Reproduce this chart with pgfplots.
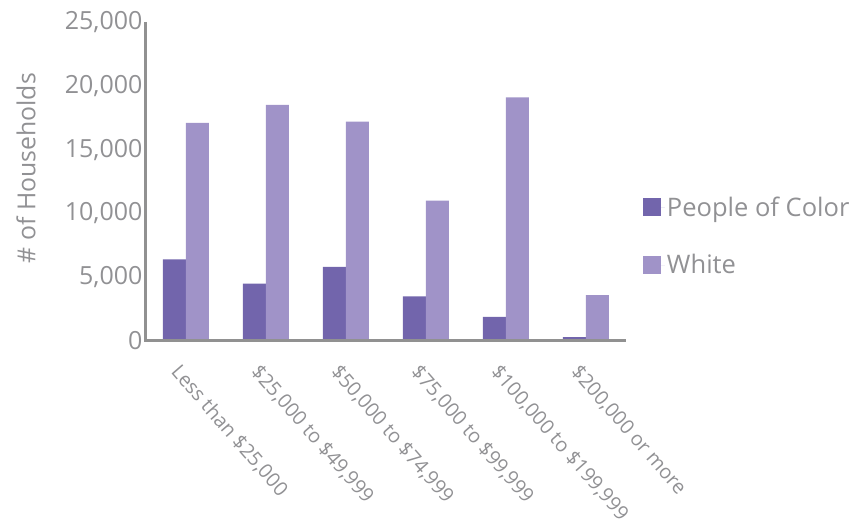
\documentclass[border=0pt]{standalone}
\usepackage{fontspec}
\setmainfont{Open Sans}
\usepackage{pgfplots}
\pgfplotsset{compat=1.18}

\definecolor{poc}{RGB}{114,101,172}
\definecolor{wht}{RGB}{160,147,200}
\definecolor{txtgray}{RGB}{145,145,148}
\definecolor{axgray}{RGB}{145,145,145}

\begin{document}
\begin{tikzpicture}[x=1pt,y=1pt]
% page frame, same size as the reference
\useasboundingbox (-146,-185) rectangle (708,341);
\begin{axis}[
  scale only axis,
  width=480pt, height=319pt,
  ybar=0pt, bar width=23pt,
  xmin=-0.5, xmax=5.5,
  ymin=0, ymax=25000,
  axis x line*=bottom, axis y line*=left,
  axis line style={draw=none},
  after end axis/.code={
    \draw[axgray, line width=3pt] (rel axis cs:0,1) -- (rel axis cs:0,0) -- (rel axis cs:1,0);
  },
  major tick length=0pt,
  xtick={0,...,5},
  xticklabels={{Less than \$25,000}, {\$25,000 to \$49,999}, {\$50,000 to \$74,999},
    {\$75,000 to \$99,999}, {\$100,000 to \$199,999}, {\$200,000 or more}},
  xticklabel style={rotate=-49, anchor=north west, xshift=10pt, yshift=-14pt,
    font=\fontsize{19.8}{23}\selectfont, text=txtgray},
  ytick={0,5000,10000,15000,20000,25000},
  scaled y ticks=false,
  /pgf/number format/assume math mode=true,
  /pgf/number format/1000 sep={,},
  yticklabel style={font=\fontsize{25}{29}\selectfont, text=txtgray},
  ylabel={\# of Households},
  every axis y label/.style={at={(axis description cs:-0.25,0.542)}, rotate=90,
    anchor=center, font=\fontsize{24.8}{29}\selectfont, text=txtgray},
  legend style={draw=none, fill=none, inner sep=0pt,
    at={(axis description cs:1.035,0.329)}, anchor=west,
    font=\fontsize{25.5}{29}\selectfont, text=txtgray,
    row sep=33pt},
  legend cell align=left,
  legend image code/.code={\fill[#1] (0pt,-9pt) rectangle (18pt,9pt);
    \path (0pt,0pt) -- (22pt,0pt);},
]
\addplot[fill=poc, draw=none] coordinates {
  (0,6400) (1,4500) (2,5800) (3,3500) (4,1900) (5,300)
};
\addplot[fill=wht, draw=none] coordinates {
  (0,17100) (1,18500) (2,17200) (3,11000) (4,19100) (5,3600)
};
\legend{People of Color, White}
\end{axis}
\end{tikzpicture}
\end{document}
